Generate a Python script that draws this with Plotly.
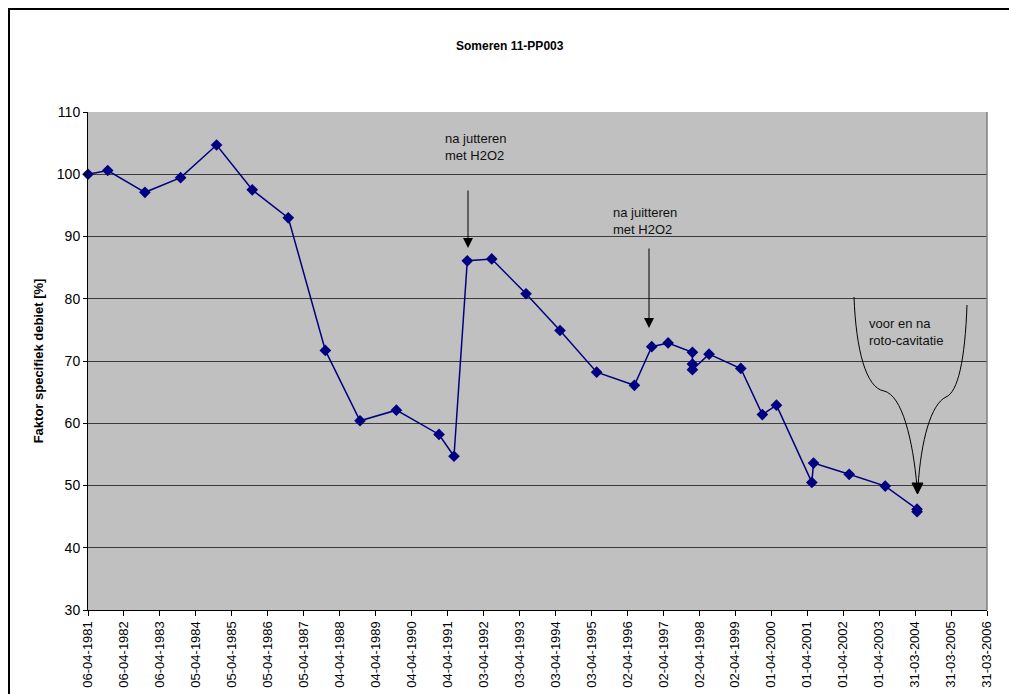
import pandas as pd
import plotly.graph_objects as go

# Specific-capacity factor of well 11-PP003 (Someren)
meetdatum = [
    "1981-04-06", "1981-10-23", "1982-11-05", "1983-11-02", "1984-11-01",
    "1985-10-29", "1986-10-30", "1987-11-10", "1988-10-27", "1989-10-31",
    "1991-01-07", "1991-06-08", "1991-10-21", "1992-06-25", "1993-06-08",
    "1994-05-19", "1995-05-26", "1996-06-12", "1996-12-05", "1997-05-20",
    "1998-01-22", "1998-01-22", "1998-01-22", "1998-07-10", "1999-05-28",
    "2000-01-02", "2000-05-24", "2001-05-18", "2001-06-04", "2002-06-01",
    "2003-06-02", "2004-04-20", "2004-04-20",
]
faktor = [
    100.0, 100.6, 97.1, 99.45, 104.7,
    97.5, 93.0, 71.7, 60.4, 62.1,
    58.2, 54.7, 86.1, 86.4, 80.8,
    74.9, 68.2, 66.1, 72.3, 72.9,
    71.4, 69.5, 68.6, 71.1, 68.8,
    61.4, 62.9, 50.5, 53.6, 51.8,
    49.9, 46.2, 45.8,
]

as_start = pd.Timestamp("1981-04-06")
as_stap_dagen = 365
as_aantal = 25
y_min, y_max, y_stap = 30, 110, 10

W, H = 1009, 694
L, R, T, B = 88, 987, 112, 610

def px(x):
    return (x - L) / (R - L)

def py(y):
    return (B - y) / (B - T)

tickvals = [as_start + pd.Timedelta(days=as_stap_dagen * k) for k in range(as_aantal + 1)]

FONT = "Arial, Liberation Sans, sans-serif"

fig = go.Figure()
fig.add_trace(go.Scatter(
    x=pd.to_datetime(meetdatum), y=faktor, mode="lines+markers",
    line=dict(color="#000080", width=1.5),
    marker=dict(symbol="diamond", size=9, color="#000080"),
    showlegend=False, cliponaxis=False,
))

fig.update_layout(
    width=W, height=H,
    margin=dict(l=L, r=W - R, t=T, b=H - B, pad=0),
    paper_bgcolor="white", plot_bgcolor="#C0C0C0",
    font=dict(family=FONT, size=12, color="black"),
    xaxis=dict(
        type="date", range=[tickvals[0], tickvals[-1]], automargin=False,
        tickvals=tickvals, tickformat="%d-%m-%Y", tickangle=-90,
        tickfont=dict(size=13), ticks="outside", ticklen=5, tickcolor="black",
        showgrid=False, zeroline=False,
        showline=True, linecolor="black", linewidth=1,
    ),
    yaxis=dict(
        range=[y_min, y_max], tickvals=list(range(y_min, y_max + 1, y_stap)),
        automargin=False,
        tickfont=dict(size=14), ticks="outside", ticklen=4, tickcolor="black",
        showgrid=True, gridcolor="#3a3a3a", gridwidth=1, zeroline=False,
        showline=True, linecolor="black", linewidth=1,
        title=dict(text="<b>Faktor specifiek debiet [%]</b>", font=dict(size=13), standoff=10),
    ),
)

shapes = [
    # outer chart frame
    dict(type="rect", xref="paper", yref="paper",
         x0=px(9), x1=px(1030), y0=py(9), y1=py(720),
         line=dict(color="black", width=2), layer="below"),
    # plot area border
    dict(type="line", xref="paper", yref="paper",
         x0=1, x1=1, y0=0, y1=1, line=dict(color="#808080", width=1.5)),
    # brace pointing at the roto-cavitation measurements
    dict(type="path", xref="paper", yref="paper",
         path="M {} {} C {} {} {} {} {} {} C {} {} {} {} {} {}".format(
             px(854), py(297), px(856), py(350), px(866), py(388), px(884), py(391),
             px(902), py(395), px(913), py(440), px(917), py(487)),
         line=dict(color="black", width=1)),
    dict(type="path", xref="paper", yref="paper",
         path="M {} {} C {} {} {} {} {} {} C {} {} {} {} {} {}".format(
             px(967), py(305), px(965), py(360), px(958), py(392), px(946), py(397),
             px(931), py(404), px(921), py(440), px(918), py(487)),
         line=dict(color="black", width=1)),
    dict(type="path", xref="paper", yref="paper",
         path="M {} {} L {} {} L {} {} Z".format(
             px(912), py(483), px(923), py(483), px(917.5), py(494)),
         fillcolor="black", line=dict(color="black", width=1)),
]
fig.update_layout(shapes=shapes)

annotations = [
    dict(text="<b>Someren 11-PP003</b>", xref="paper", yref="paper",
         x=px(510), y=py(46), xanchor="center", yanchor="middle",
         showarrow=False, font=dict(size=12)),
    dict(text="na jutteren<br>met H2O2", xref="paper", yref="paper",
         x=px(443), y=py(147), xanchor="left", yanchor="middle",
         align="left", showarrow=False, font=dict(size=13, color="#111")),
    dict(text="na juitteren<br>met H2O2", xref="paper", yref="paper",
         x=px(611), y=py(221), xanchor="left", yanchor="middle",
         align="left", showarrow=False, font=dict(size=13, color="#111")),
    dict(text="voor en na<br>roto-cavitatie", xref="paper", yref="paper",
         x=px(867), y=py(332), xanchor="left", yanchor="middle",
         align="left", showarrow=False, font=dict(size=13, color="#111")),
    dict(text="", xref="paper", yref="paper", x=px(468), y=py(248),
         ax=0, ay=-59, showarrow=True, arrowhead=2, arrowsize=2,
         arrowwidth=1, arrowcolor="black"),
    dict(text="", xref="paper", yref="paper", x=px(649), y=py(328),
         ax=0, ay=-81, showarrow=True, arrowhead=2, arrowsize=2,
         arrowwidth=1, arrowcolor="black"),
]
fig.update_layout(annotations=annotations)

fig.write_html("out.html")
